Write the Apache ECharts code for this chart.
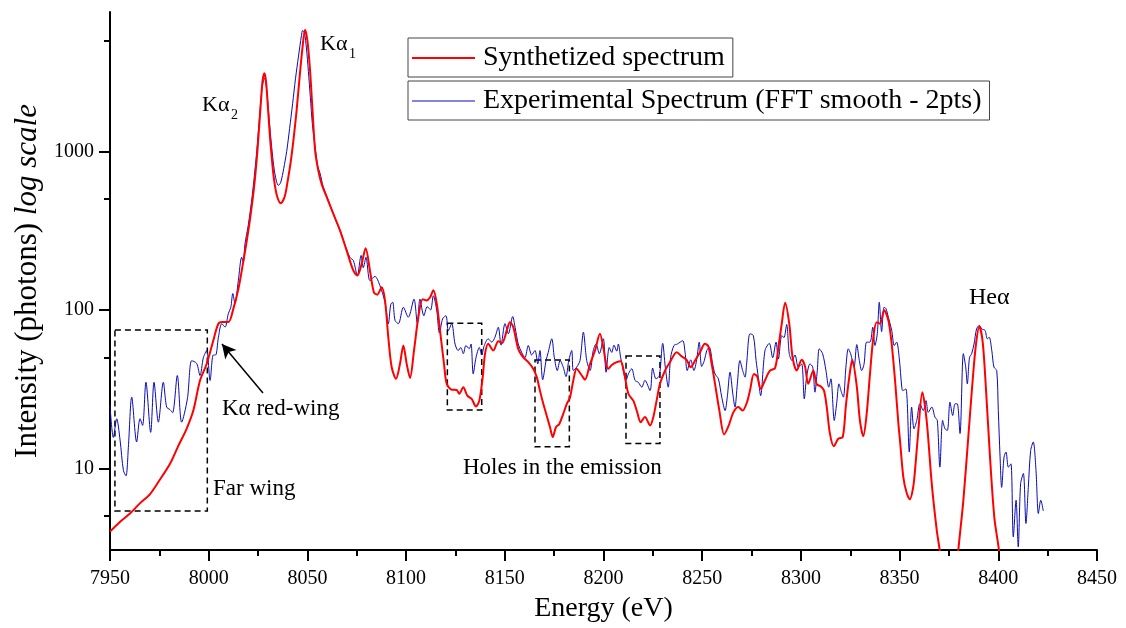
<!DOCTYPE html>
<html>
<head>
<meta charset="utf-8">
<script src="https://cdn.jsdelivr.net/npm/echarts@6/dist/echarts.min.js"></script>
<style>html,body{margin:0;padding:0;background:#fff}#c{width:1126px;height:628px}</style>
</head>
<body>
<div id="c"></div>
<script>
// ---- data: [energy (eV), intensity (photons)] ----
const synthetized = [[7950.0,4.0],[7955,4.6],[7960.1,5.2],[7965,6.0],[7970.3,6.9],[7975,8.4],[7980.4,10.7],[7984.5,13.8],[7988.8,17.8],[7992.2,23.2],[7995.6,35.9],[7999.0,45.8],[8002.3,64],[8004.9,81.9],[8007,84],[8010,84],[8012.5,102],[8015,135],[8017,185],[8019,260],[8021,380],[8023,600],[8024.5,950],[8025.5,1400],[8026.5,2100],[8027.3,2800],[8028.2,3119],[8029,2800],[8030,1900],[8031,1250],[8032,900],[8033,680],[8034.5,530],[8036.5,472],[8038.5,520],[8040,650],[8041.5,850],[8043,1200],[8044.5,1800],[8046,2900],[8047.5,4500],[8048.8,5861],[8050,5000],[8051.3,3300],[8052.5,1900],[8053.9,1015],[8055.5,760],[8057.2,625],[8059.8,515],[8063.1,405],[8066.5,318],[8069.9,237],[8073.3,177],[8075.3,165],[8077.5,196],[8079.5,245],[8081.7,177],[8083.7,129],[8085.4,125],[8087.6,139],[8089.3,115],[8091,67],[8092.7,43.5],[8094.9,36.8],[8096.9,45.7],[8098.6,59.7],[8100.3,45.7],[8102,37.3],[8104,55.5],[8106.2,90],[8108.4,117],[8110.4,115],[8112.1,120],[8113.8,133],[8115.5,110],[8117.2,74],[8119.2,45.7],[8120.6,34.2],[8123.1,31.4],[8125.6,31.3],[8126.9,29.6],[8129,32.6],[8131,28.8],[8133.2,27.5],[8135.4,24.6],[8137.1,26.8],[8138.8,37.7],[8140,53],[8141.6,61.2],[8144.2,55.5],[8146.7,63.6],[8148.6,62],[8151,74.3],[8152.6,83.8],[8154.3,78],[8156.8,56.9],[8159.4,50.2],[8161.9,46.9],[8164.4,42.6],[8166.2,37.7],[8167.8,31],[8169.5,25.6],[8171.2,21.6],[8172.9,18.2],[8174.3,15.8],[8175.9,18.2],[8177.6,19.1],[8179.6,22.1],[8181.4,25.6],[8183,28],[8184.7,35.9],[8186.4,42.6],[8189,38.6],[8190.6,36.3],[8193.2,45.7],[8195.7,55.5],[8198.2,70.8],[8199.9,58],[8201.3,46],[8202.4,42.6],[8204.2,45],[8206.7,46.9],[8208.7,47.5],[8210.4,40.5],[8212.6,29.6],[8215.1,26.8],[8217.1,22.6],[8218.8,19.6],[8221,21.1],[8223.6,18.7],[8225.2,21],[8226.9,26.8],[8228.6,34.2],[8231.2,41.5],[8233.7,46.9],[8237.1,54.2],[8239.6,51],[8242.1,48.5],[8244.2,43.6],[8246.4,48],[8248.9,54.2],[8251.4,61.2],[8253.1,59],[8254.8,45.7],[8256.5,34.2],[8258.7,23.2],[8261.1,16.4],[8263.3,18.5],[8265.8,22.6],[8268.3,24.4],[8270.5,23.2],[8272.6,26],[8274.2,31],[8276.2,39.5],[8277.9,38],[8279.6,31.8],[8281.8,36],[8284.3,41.5],[8286.9,43],[8288.6,58.2],[8290.3,82],[8292,111],[8294.1,82],[8295.8,50],[8297.9,41.5],[8300.4,48.5],[8302.1,44],[8303.7,34.2],[8306.3,41.5],[8308,34],[8310,33],[8311.7,31],[8313.1,24.4],[8314.7,16.6],[8316.7,13.8],[8318.9,15.4],[8321.2,15.8],[8322.8,25],[8324.5,37.7],[8326,48.5],[8328.3,33],[8329.9,20.1],[8331.6,16],[8333.3,22],[8335,39.5],[8336.7,67.3],[8338.4,83.8],[8340.1,82],[8342.2,99.6],[8344.3,86],[8346,61],[8347.7,35.9],[8349.4,19.1],[8350.2,15],[8351.9,8.8],[8353.6,7.0],[8355.2,6.4],[8356.8,7.5],[8357.8,9.7],[8359.5,17.4],[8361.5,30.3],[8363.7,20.1],[8366.3,8.0],[8368.8,4.1],[8370.4,3.0],[8372.9,1.6],[8375.5,1.0],[8378,1.6],[8379.7,3.0],[8382.3,6.3],[8384.8,15.8],[8387,35.9],[8388.7,61],[8390.4,78.7],[8392.1,62.7],[8393.8,31],[8395.8,11.8],[8398,4.9],[8400.4,3.0],[8402.4,1.5]];

const experimental = [[7950,25],[7951.7,15.7],[7953.4,20.6],[7955.1,15.1],[7956.8,9.7],[7958.1,9.0],[7959.3,13.6],[7961,28.2],[7963.5,14.7],[7965.2,20.6],[7966.5,18.7],[7968.2,35],[7970.6,16.9],[7972.3,35],[7974.5,19.6],[7977,35],[7978.7,24.4],[7980.4,23.5],[7981.7,22.5],[7984.1,38.6],[7986.3,19.6],[7989.2,27.5],[7991.4,47.9],[7993.9,46],[7995.6,38.6],[7997.3,50],[7999,55.5],[8000.7,35.9],[8002.3,52],[8003.5,52],[8004.9,67],[8006.6,82],[8008.3,78],[8009.9,94.6],[8011.2,104],[8012.2,127],[8013.3,110],[8015,153],[8016.7,215],[8017.5,200],[8018.4,263],[8020,340],[8022,520],[8024,900],[8025.5,1500],[8027,2500],[8028.3,2900],[8029.3,2500],[8030.3,1800],[8031.5,1200],[8033,800],[8034.3,650],[8035.3,611],[8036.5,640],[8038,780],[8039.5,1000],[8041,1400],[8042.5,2000],[8044,2900],[8045.5,4000],[8047,5400],[8047.6,5800],[8048.5,5600],[8049.5,4500],[8050.5,3200],[8051.5,2200],[8052.5,1500],[8054,1050],[8055.3,800],[8056.4,730],[8058,600],[8060,515],[8063.1,405],[8066.5,318],[8069.9,240],[8071.5,215],[8073.3,205],[8075.3,165],[8077.2,221],[8078.3,185],[8079.7,215],[8081.7,153],[8084.2,163],[8086.7,143],[8089.3,112],[8091,82],[8092.2,108],[8093.2,112],[8094.4,86],[8096.1,82],[8098.6,104],[8101.1,90],[8104,117],[8105.7,82],[8107,117],[8109,92],[8110.7,105],[8112.4,100],[8113.8,123],[8115.5,100],[8116.9,71.5],[8118.5,88],[8120.2,92],[8121.4,74],[8123.1,82],[8124.8,61],[8126.4,55.5],[8127.7,58],[8129,53],[8130.3,59.7],[8132,57],[8132.9,61],[8134,39.5],[8135.4,50],[8137.1,58],[8138.3,52],[8139.6,59.7],[8141.6,65.8],[8143.4,62.7],[8145,67.3],[8146.7,77.8],[8148.1,60],[8150.1,82],[8151.8,70.8],[8154,91],[8155.2,77.8],[8156.8,61],[8158.5,54.2],[8160.2,50],[8161.9,59.7],[8163.6,52],[8165.3,55.5],[8166.7,45.7],[8167.8,55.5],[8169.2,36.3],[8170.9,48],[8172,54],[8173.8,65.8],[8175.1,50],[8176.6,41.5],[8178,48],[8179.6,43.6],[8181,38],[8182.4,48],[8183.9,55.5],[8184.7,41.5],[8186.4,43.6],[8188.1,48],[8189.8,72.4],[8191.5,48],[8193.2,41.5],[8194.8,55.5],[8196.2,61],[8197.9,53],[8199.9,65.8],[8201.3,40.5],[8202.9,58],[8204.2,54],[8205.3,60],[8206.7,55],[8207.5,61],[8208.7,50],[8210,41.5],[8211.4,35.9],[8212.6,39.5],[8214.3,42.6],[8216,35.9],[8217.6,35],[8219.4,32.6],[8221,36],[8223.6,31],[8224.9,43],[8226.6,36.8],[8228.3,38.6],[8230,61.6],[8231.3,43.6],[8232.8,32.6],[8234,50],[8235.7,59.7],[8237.4,61],[8240.1,64],[8241.3,54.2],[8242.4,41.5],[8244.2,48.5],[8245.8,41.5],[8247.2,48.5],[8248.5,62.7],[8249.7,44],[8251.1,48],[8252.3,55.5],[8253.6,58.2],[8255.3,45.7],[8256.5,39.5],[8258.2,36.8],[8259.9,28.2],[8261.6,23.2],[8262.7,28.2],[8264.1,40.5],[8265.5,29.6],[8266.6,24.4],[8267.8,34.2],[8269.1,48],[8270.5,41.5],[8271.7,37.7],[8272.5,45.7],[8274.2,70.8],[8275.9,69],[8277.3,48],[8278.4,37.7],[8279.6,28.8],[8281.8,55.5],[8284,61.6],[8285.7,50],[8287.4,62.7],[8288.6,49],[8290.3,69],[8291.4,67],[8292.8,81],[8294.1,53],[8295.5,48],[8297,52],[8298.7,43.6],[8300.4,45.7],[8301.7,27.5],[8302.9,37.7],[8304.6,45.7],[8306,43.6],[8307.1,30.3],[8308.3,41.5],[8309.3,56.9],[8311,53],[8312.7,41.5],[8314.1,32.6],[8315.2,36.8],[8316.9,20.1],[8318.1,25.6],[8319.3,34.2],[8320.3,31],[8321.5,28.2],[8322.8,43.6],[8324,56.9],[8325.2,53],[8326.9,43.6],[8328.3,60.5],[8329.6,48],[8330.8,41.5],[8332,45.7],[8333.3,62.7],[8335,62.7],[8336.4,77.8],[8337.5,59.7],[8338.7,71],[8339.7,112],[8340.9,73],[8342.1,104],[8343.1,102],[8344.3,90],[8346,74.3],[8347.3,59.7],[8348.5,62.7],[8349.8,50],[8351.1,32.6],[8351.6,31],[8353.2,31.8],[8354.9,12.7],[8356.1,24.4],[8357.3,17.8],[8358.7,20.1],[8360.3,25.6],[8362,23.2],[8363.4,26.8],[8364.5,22.6],[8366.3,24.4],[8367.9,21.1],[8369.1,20.1],[8370.4,10.2],[8371.8,20.1],[8373,17.8],[8374.2,17.4],[8375.5,26.2],[8376.9,21.6],[8378.1,25.6],[8379.2,25.6],[8380.6,16.6],[8382.3,53],[8383.5,43.6],[8384.3,34.2],[8385.4,50],[8386.5,53],[8387.7,61],[8389,76],[8390.4,80],[8391.6,76],[8393.3,74.3],[8394.4,65.8],[8395.4,67.3],[8396.7,55.5],[8397.8,43.6],[8399.2,41.5],[8400,23.2],[8400.9,11.8],[8401.7,7.6],[8402.9,11.8],[8403.9,12.7],[8405.1,10.2],[8406.4,10.7],[8407.6,3.7],[8409,6.3],[8410.1,3.2],[8411.3,8.0],[8412.7,9.3],[8414,4.5],[8415.2,7.6],[8416.4,13],[8417.7,14.7],[8419.1,9.7],[8420.3,5.2],[8421.5,6.3],[8422.8,5.4]];

// Dashed boxes marking the far wing and the emission holes: [[E0, I_top], [E1, I_bottom]]
const boxes = [[[7952.5,74.8],[7999.3,5.4]],[[8120.9,82.4],[8138.3,23.4]],[[8165.3,48.4],[8182.7,13.7]],[[8211.4,51.3],[8228.6,14.4]]];
// arrow pointing at the Kα red-wing: [tail, head]
const arrowRedWing = [[8027.5,29.9],[8006.7,61]];
const majorTicksY = [10, 100, 1000];
const minorTicksY = [5, 50, 500, 5000];
const seriesNames = ['Synthetized spectrum', 'Experimental Spectrum (FFT smooth - 2pts)'];

const FONT = 'Liberation Serif';
const chart = echarts.init(document.getElementById('c'), null, {renderer: 'canvas'});
const yCommon = {type: 'log', logBase: 10, min: 3.06, max: 7590, splitLine: {show: false}};
const legendCommon = {left: 408, orient: 'horizontal', borderColor: '#444', borderWidth: 1,
  padding: [6, 8, 5, 4], itemWidth: 63, itemGap: 0, icon: 'rect',
  textStyle: {fontFamily: FONT, fontSize: 28, color: '#000', padding: [0, 0, 0, 3]}};
const option = {
  animation: false,
  backgroundColor: '#fff',
  grid: {left: 110, right: 29, top: 12, bottom: 78, containLabel: false},
  legend: [
    Object.assign({}, legendCommon, {data: [seriesNames[0]], top: 38, itemHeight: 2}),
    Object.assign({}, legendCommon, {data: [seriesNames[1]], top: 81, itemHeight: 1})
  ],
  xAxis: {
    type: 'value', min: 7950, max: 8450, interval: 50,
    name: 'Energy (eV)', nameLocation: 'middle', nameGap: 45,
    nameTextStyle: {fontFamily: FONT, fontSize: 28, color: '#000'},
    axisLine: {show: true, onZero: false, lineStyle: {color: '#000', width: 2}},
    axisTick: {show: true, inside: false, length: 11, lineStyle: {color: '#000', width: 2}},
    minorTick: {show: true, splitNumber: 2, length: 6, lineStyle: {color: '#000', width: 2}},
    axisLabel: {fontFamily: FONT, fontSize: 20, color: '#000', margin: 19, formatter: v => String(v)},
    splitLine: {show: false}
  },
  yAxis: [
    Object.assign({}, yCommon, {
      name: '{a|Intensity (photons) }{b|log scale}', nameLocation: 'middle', nameGap: 66, nameRotate: 90,
      nameTextStyle: {fontFamily: FONT, fontSize: 31, color: '#000',
        rich: {a: {fontFamily: FONT, fontSize: 31, color: '#000'}, b: {fontFamily: FONT, fontSize: 31, color: '#000', fontStyle: 'italic'}}},
      axisLine: {show: true, onZero: false, lineStyle: {color: '#000', width: 2}},
      axisTick: {show: true, length: 11, customValues: majorTicksY, lineStyle: {color: '#000', width: 2}},
      axisLabel: {fontFamily: FONT, fontSize: 20, color: '#000', margin: 16, customValues: majorTicksY,
                  formatter: v => String(Math.round(v))}
    }),
    Object.assign({}, yCommon, {
      position: 'left', offset: 0,
      axisLine: {show: false},
      axisTick: {show: true, length: 6, customValues: minorTicksY, lineStyle: {color: '#000', width: 2}},
      axisLabel: {show: false}
    })
  ],
  graphic: [
    {type: 'text', left: 202, top: 94, style: {text: 'Kα', font: '22px "Liberation Serif"', fill: '#000'}},
    {type: 'text', left: 231, top: 108, style: {text: '2', font: '14px "Liberation Serif"', fill: '#000'}},
    {type: 'text', left: 320, top: 33, style: {text: 'Kα', font: '22px "Liberation Serif"', fill: '#000'}},
    {type: 'text', left: 349, top: 47, style: {text: '1', font: '14px "Liberation Serif"', fill: '#000'}},
    {type: 'text', left: 969, top: 286, style: {text: 'Heα', font: '24px "Liberation Serif"', fill: '#000'}},
    {type: 'text', left: 222, top: 397, style: {text: 'Kα red-wing', font: '23px "Liberation Serif"', fill: '#000'}},
    {type: 'text', left: 213, top: 477, style: {text: 'Far wing', font: '23px "Liberation Serif"', fill: '#000'}},
    {type: 'text', left: 463, top: 456, style: {text: 'Holes in the emission', font: '23px "Liberation Serif"', fill: '#000'}}
  ],
  series: [
    {
      name: seriesNames[0], type: 'line', data: synthetized, yAxisIndex: 0,
      symbol: 'none', showSymbol: false, smooth: 0.3, clip: true,
      lineStyle: {color: '#ff0000', width: 2}, itemStyle: {color: '#ff0000'}, z: 3,
      markArea: {
        silent: true,
        itemStyle: {color: 'rgba(0,0,0,0)', borderColor: '#000', borderWidth: 1.5, borderType: [6, 4]},
        label: {show: false},
        data: boxes.map(b => [{coord: b[0]}, {coord: b[1]}])
      }
    },
    {
      name: seriesNames[1], type: 'line', data: experimental, yAxisIndex: 0,
      symbol: 'none', showSymbol: false, smooth: 0.3, clip: true,
      lineStyle: {color: '#0a0ab4', width: 1}, itemStyle: {color: '#0a0ab4'}, z: 2,
      markLine: {
        silent: true, symbol: ['none', 'arrow'], symbolSize: [11, 14],
        label: {show: false},
        lineStyle: {color: '#000', width: 1.5, type: 'solid'},
        data: [[{coord: arrowRedWing[0]}, {coord: arrowRedWing[1]}]]
      }
    }
  ]
};
chart.setOption(option);
</script>
</body>
</html>
